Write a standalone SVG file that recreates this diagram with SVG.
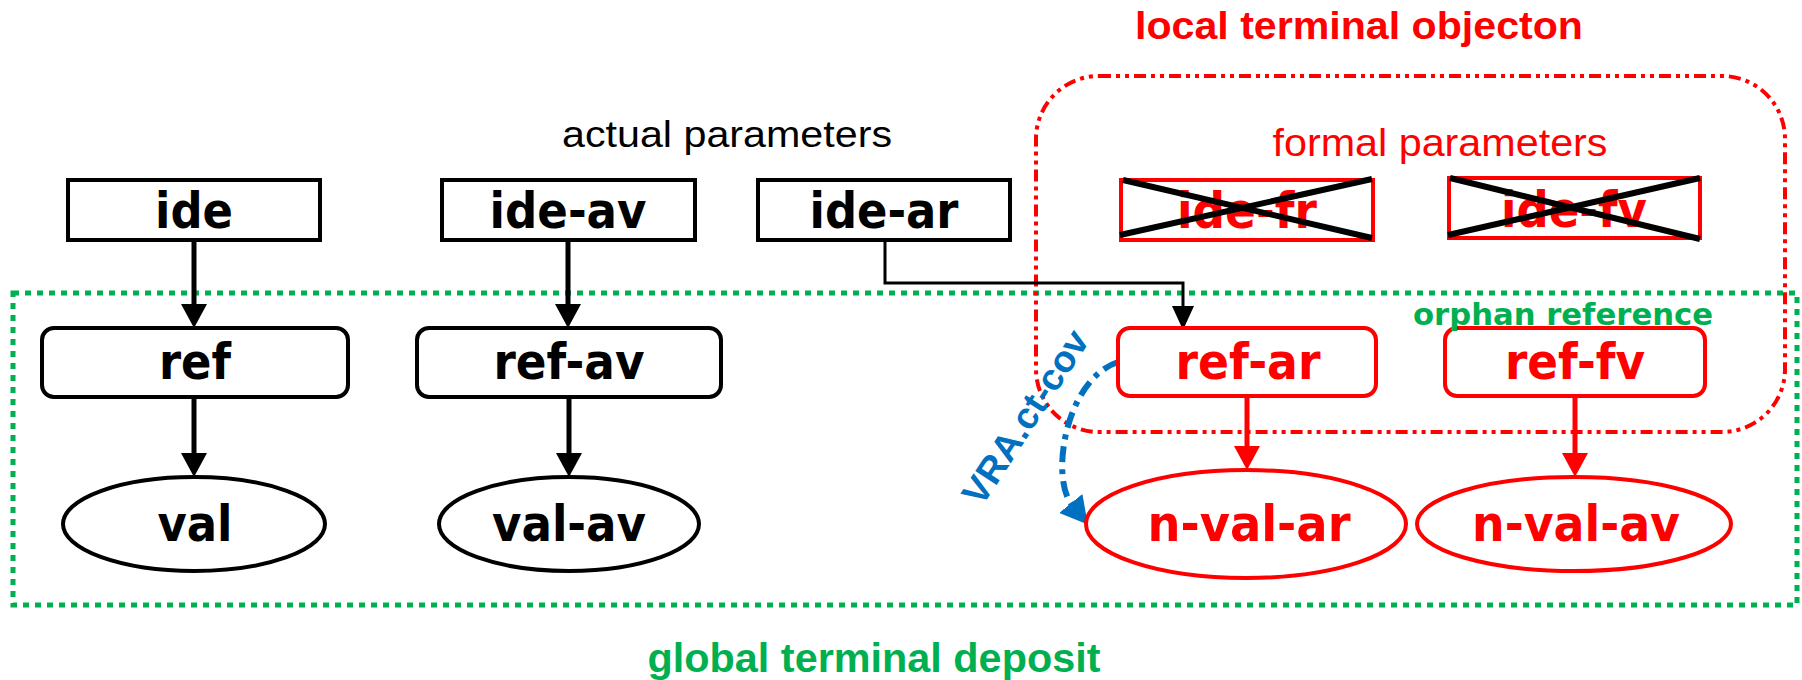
<svg xmlns="http://www.w3.org/2000/svg" width="1802" height="680" viewBox="0 0 1802 680">
<style>
.box{fill:#fff;stroke:#000;stroke-width:4}
.rbox{fill:#fff;stroke:#ff0000;stroke-width:4}
.lbl{font-family:"DejaVu Sans",sans-serif;font-weight:bold;font-size:50px;text-anchor:middle;fill:#000}
.rlbl{font-family:"DejaVu Sans",sans-serif;font-weight:bold;font-size:50px;text-anchor:middle;fill:#ff0000}
.title{font-family:"Liberation Sans",Arial,sans-serif;text-anchor:middle}
.blk{stroke:#000;stroke-width:5;fill:none}
.red{stroke:#ff0000;stroke-width:5;fill:none}
.cross{stroke:#000;stroke-width:6;fill:none}
</style>
<defs>
<marker id="ab" markerUnits="userSpaceOnUse" markerWidth="24" markerHeight="26" viewBox="0 0 24 26" refX="12" refY="13" orient="auto"><path d="M0,0 L24,13 L0,26 z" fill="#000"/></marker>
<marker id="ar" markerUnits="userSpaceOnUse" markerWidth="24" markerHeight="26" viewBox="0 0 24 26" refX="12" refY="13" orient="auto"><path d="M0,0 L24,13 L0,26 z" fill="#ff0000"/></marker>
<marker id="at" markerUnits="userSpaceOnUse" markerWidth="24" markerHeight="22" viewBox="0 0 24 22" refX="12" refY="11" orient="auto"><path d="M0,0 L24,11 L0,22 z" fill="#000"/></marker>
<marker id="abl" markerUnits="userSpaceOnUse" markerWidth="27" markerHeight="30" viewBox="0 0 27 30" refX="2" refY="15" orient="auto"><path d="M0,0 L27,15 L0,30 z" fill="#0070C0"/></marker>
</defs>

<g id="global-deposit">
<rect x="13" y="293" width="1784" height="312" fill="none" stroke="#00B050" stroke-width="5" stroke-dasharray="6 6"/>
<text class="title" x="874" y="672" font-size="40" font-weight="bold" fill="#00B050" textLength="453" lengthAdjust="spacingAndGlyphs">global terminal deposit</text>
</g>

<g id="local-objecton">
<rect x="1036" y="76" width="749" height="356" rx="63" ry="63" fill="none" stroke="#ff0000" stroke-width="4" stroke-dasharray="12 5 4 5 4 5"/>
<text class="title" x="1359" y="39" font-size="39" font-weight="bold" fill="#ff0000" textLength="448" lengthAdjust="spacingAndGlyphs">local terminal objecton</text>
<text class="title" x="1440" y="156" font-size="38" fill="#ff0000" textLength="335" lengthAdjust="spacingAndGlyphs">formal parameters</text>
</g>

<text id="actual-params" class="title" x="727" y="147" font-size="36" fill="#000" textLength="330" lengthAdjust="spacingAndGlyphs">actual parameters</text>

<g id="connectors">
<line class="blk" x1="194" y1="240" x2="194" y2="316" marker-end="url(#ab)"/>
<line class="blk" x1="568" y1="240" x2="568" y2="316" marker-end="url(#ab)"/>
<line class="blk" x1="194" y1="397" x2="194" y2="465" marker-end="url(#ab)"/>
<line class="blk" x1="569" y1="397" x2="569" y2="465" marker-end="url(#ab)"/>
<polyline points="885,240 885,283 1183,283 1183,318" fill="none" stroke="#000" stroke-width="3" marker-end="url(#at)"/>
<line class="red" x1="1247" y1="397" x2="1247" y2="458" marker-end="url(#ar)"/>
<line class="red" x1="1575" y1="397" x2="1575" y2="465" marker-end="url(#ar)"/>
<path d="M1118,362 C1065,380 1050,478 1072,505" fill="none" stroke="#0070C0" stroke-width="6" stroke-dasharray="16 7 5 7" marker-end="url(#abl)"/>
<text x="1036" y="424" transform="rotate(-57 1036 424)" font-family="'Liberation Sans',Arial,sans-serif" font-weight="bold" font-size="37" fill="#0070C0" text-anchor="middle" textLength="200" lengthAdjust="spacingAndGlyphs">VRA.ct-cov</text>
</g>

<g id="ide"><rect class="box" x="68" y="180" width="252" height="60"/><text class="lbl" x="194" y="228" textLength="78" lengthAdjust="spacingAndGlyphs">ide</text></g>
<g id="ide-av"><rect class="box" x="442" y="180" width="253" height="60"/><text class="lbl" x="568" y="228" textLength="157" lengthAdjust="spacingAndGlyphs">ide-av</text></g>
<g id="ide-ar"><rect class="box" x="758" y="180" width="252" height="60"/><text class="lbl" x="884" y="228" textLength="149" lengthAdjust="spacingAndGlyphs">ide-ar</text></g>

<g id="ide-fr"><rect class="rbox" x="1121" y="180" width="252" height="60"/><text class="rlbl" x="1247" y="228" textLength="140" lengthAdjust="spacingAndGlyphs">ide-fr</text>
<line class="cross" x1="1120" y1="235" x2="1372" y2="179"/><line class="cross" x1="1123" y1="180" x2="1372" y2="238"/></g>
<g id="ide-fv"><rect class="rbox" x="1449" y="178" width="251" height="60"/><text class="rlbl" x="1574" y="227" textLength="146" lengthAdjust="spacingAndGlyphs">ide-fv</text>
<line class="cross" x1="1448" y1="235" x2="1700" y2="178"/><line class="cross" x1="1450" y1="178" x2="1700" y2="239"/></g>

<g id="ref"><rect class="box" x="42" y="328" width="306" height="69" rx="12"/><text class="lbl" x="195" y="379" textLength="72" lengthAdjust="spacingAndGlyphs">ref</text></g>
<g id="ref-av"><rect class="box" x="417" y="328" width="304" height="69" rx="12"/><text class="lbl" x="569" y="379" textLength="151" lengthAdjust="spacingAndGlyphs">ref-av</text></g>
<g id="ref-ar"><rect class="rbox" x="1118" y="328" width="258" height="68" rx="12"/><text class="rlbl" x="1248" y="379" textLength="145" lengthAdjust="spacingAndGlyphs">ref-ar</text></g>
<g id="ref-fv"><rect class="rbox" x="1445" y="328" width="260" height="68" rx="12"/><text class="rlbl" x="1575" y="379" textLength="140" lengthAdjust="spacingAndGlyphs">ref-fv</text></g>

<g id="val"><ellipse class="box" cx="194" cy="524" rx="131" ry="47"/><text class="lbl" x="195" y="541" textLength="75" lengthAdjust="spacingAndGlyphs">val</text></g>
<g id="val-av"><ellipse class="box" cx="569" cy="524" rx="130" ry="47"/><text class="lbl" x="569" y="541" textLength="154" lengthAdjust="spacingAndGlyphs">val-av</text></g>
<g id="n-val-ar"><ellipse class="rbox" cx="1246" cy="524" rx="160" ry="54"/><text class="rlbl" x="1249" y="541" textLength="203" lengthAdjust="spacingAndGlyphs">n-val-ar</text></g>
<g id="n-val-av"><ellipse class="rbox" cx="1574" cy="524" rx="157" ry="47"/><text class="rlbl" x="1576" y="541" textLength="208" lengthAdjust="spacingAndGlyphs">n-val-av</text></g>

<text id="orphan-ref" x="1413" y="325" font-family="'DejaVu Sans',sans-serif" font-weight="bold" font-size="30" fill="#00B050" textLength="300" lengthAdjust="spacingAndGlyphs">orphan reference</text>
</svg>
